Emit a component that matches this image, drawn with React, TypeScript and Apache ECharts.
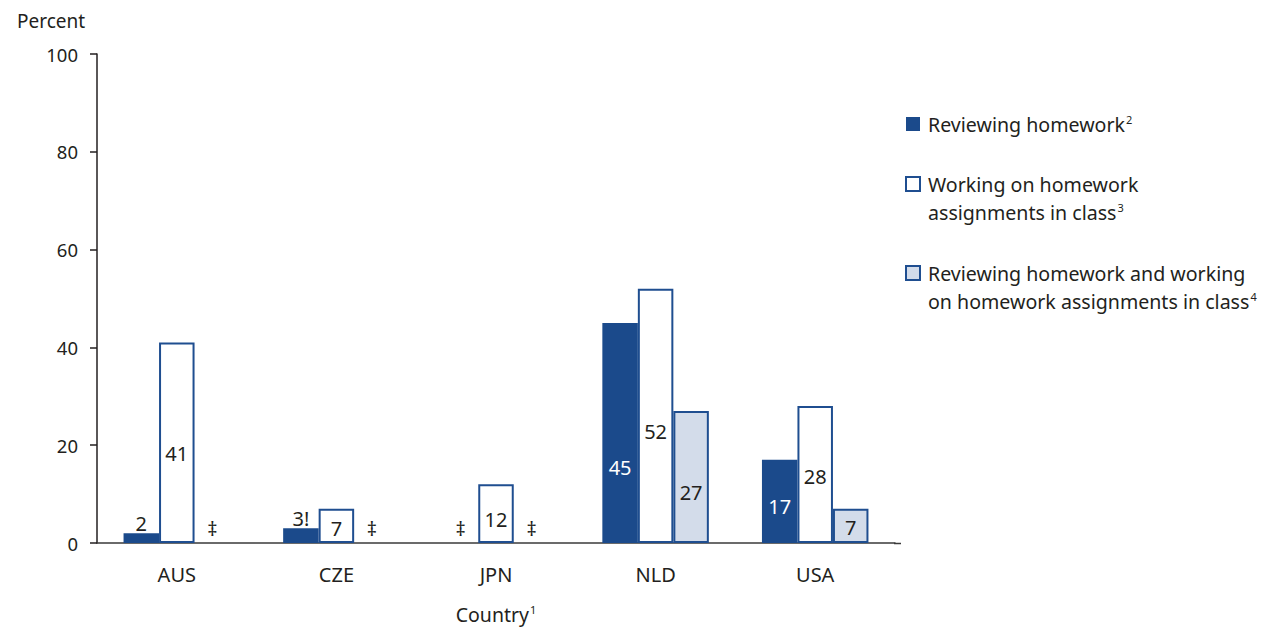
import { useEffect, useRef } from 'react';
import * as echarts from 'echarts';

const countries = ['AUS', 'CZE', 'JPN', 'NLD', 'USA'];
const reviewing: (number | null)[] = [2, 3, null, 45, 17];
const working: (number | null)[] = [41, 7, 12, 52, 28];
const both: (number | null)[] = [null, null, null, 27, 7];
const reviewingText = ['2', '3!', '‡', '45', '17'];
const workingText = ['41', '7', '12', '52', '28'];
const bothText = ['‡', '‡', '‡', '27', '7'];
const seriesNames = [
  'Reviewing homework',
  'Working on homework assignments in class',
  'Reviewing homework and working on homework assignments in class',
];
const seriesNotes = ['2', '3', '4'];
const legendLines = [
  ['Reviewing homework'],
  ['Working on homework', 'assignments in class'],
  ['Reviewing homework and working', 'on homework assignments in class'],
];
const yTicks = [0, 20, 40, 60, 80, 100];
const xTitle = 'Country';
const xTitleNote = '1';
const yTitle = 'Percent';

const FONT = '"Noto Sans", "Open Sans", sans-serif';
const DARK = '#1b4a8b';
const BORDER = '#1f4e90';
const LIGHT = '#d3dcea';
const TEXT = '#231f20';

const fills = [DARK, '#ffffff', LIGHT];
const labelColors = ['#ffffff', TEXT, TEXT];
// vertical nudges of in-bar labels (styling only)
const labelNudge = [
  [0, 0, 0, 35, 5],
  [11, 3, 6, 16, 2],
  [0, 0, 0, 16, 2],
];

function makeData(vals: (number | null)[], texts: string[], s: number) {
  return vals.map((v, i) => {
    if (v == null) {
      return {
        value: 0,
        itemStyle: { color: 'transparent', borderWidth: 0 },
        label: { show: true, position: 'top', distance: 5, formatter: texts[i], color: TEXT },
      };
    }
    if (v < 5 && s === 0) {
      return {
        value: v,
        label: { show: true, position: 'top', distance: 0, formatter: texts[i], color: TEXT },
      };
    }
    return {
      value: v,
      label: {
        show: true,
        position: 'inside',
        offset: [0, labelNudge[s][i]],
        formatter: texts[i],
        color: labelColors[s],
      },
    };
  });
}

const supRich = (size: number) => ({
  m: { fontFamily: FONT, fontSize: size, color: TEXT },
  s: { fontFamily: FONT, fontSize: 11, color: TEXT, verticalAlign: 'top', padding: [0, 0, 0, 1] },
});

export default function App() {
  const ref = useRef<HTMLDivElement>(null);
  useEffect(() => {
    const chart = echarts.init(ref.current!, undefined, { renderer: 'svg' });
    const allVals = [reviewing, working, both];
    const allTexts = [reviewingText, workingText, bothText];
    const series = allVals.map((vals, s) => ({
      name: seriesNames[s],
      type: 'bar',
      barWidth: 35.5,
      barGap: '0%',
      data: makeData(vals, allTexts[s], s),
      itemStyle: {
        color: fills[s],
        borderColor: s === 0 ? DARK : BORDER,
        borderWidth: s === 0 ? 0 : 2,
      },
      label: { fontFamily: FONT, fontSize: 20 },
    }));

    const legendGraphics: any[] = [];
    const legendTops = [124, 184, 273];
    legendLines.forEach((lines, s) => {
      const cy = legendTops[s];
      legendGraphics.push({
        type: 'rect',
        shape: { x: 906, y: cy - 7, width: 14, height: 14 },
        style: { fill: fills[s], stroke: s === 0 ? DARK : BORDER, lineWidth: s === 0 ? 0 : 2 },
      });
      lines.forEach((ln, k) => {
        const last = k === lines.length - 1;
        legendGraphics.push({
          type: 'text',
          x: 928,
          y: cy + k * 28,
          style: {
            text: last ? `{m|${ln}}{s|${seriesNotes[s]}}` : `{m|${ln}}`,
            rich: supRich(19.6),
            fill: TEXT,
            font: `19.6px ${FONT}`,
            textAlign: 'left',
            textVerticalAlign: 'middle',
          },
        });
      });
    });

    chart.setOption({
      animation: false,
      title: {
        text: yTitle,
        left: 12,
        top: 6,
        textStyle: { fontFamily: FONT, fontSize: 19, fontWeight: 'normal', color: TEXT },
      },
      grid: { left: 97, right: 366, top: 54, bottom: 85 },
      xAxis: {
        type: 'category',
        data: countries,
        axisLine: { lineStyle: { color: '#3a3a3a', width: 1.5 } },
        axisTick: { show: false },
        axisLabel: { fontFamily: FONT, fontSize: 20, color: TEXT, margin: 21 },
        name: `{m|${xTitle}}{s|${xTitleNote}}`,
        nameLocation: 'middle',
        nameGap: 61,
        nameTextStyle: { fontFamily: FONT, fontSize: 19.5, color: TEXT, rich: supRich(19.5) },
      },
      yAxis: {
        type: 'value',
        min: yTicks[0],
        max: yTicks[yTicks.length - 1],
        interval: yTicks[1] - yTicks[0],
        axisLine: { show: true, lineStyle: { color: '#231f20', width: 1.5 } },
        axisTick: { show: true, length: 7, lineStyle: { color: '#231f20', width: 1.5 } },
        axisLabel: { fontFamily: FONT, fontSize: 18.5, color: TEXT, margin: 19 },
        splitLine: { show: false },
      },
      graphic: [
        {
          type: 'line',
          shape: { x1: 894, y1: 543.5, x2: 901, y2: 543.5 },
          style: { stroke: '#3a3a3a', lineWidth: 1.5 },
        },
        ...legendGraphics,
      ],
      series,
    });
    return () => chart.dispose();
  }, []);
  return (
    <div
      ref={ref}
      style={{ position: 'fixed', left: 0, top: 0, width: 1261, height: 629, background: '#fff' }}
    />
  );
}
